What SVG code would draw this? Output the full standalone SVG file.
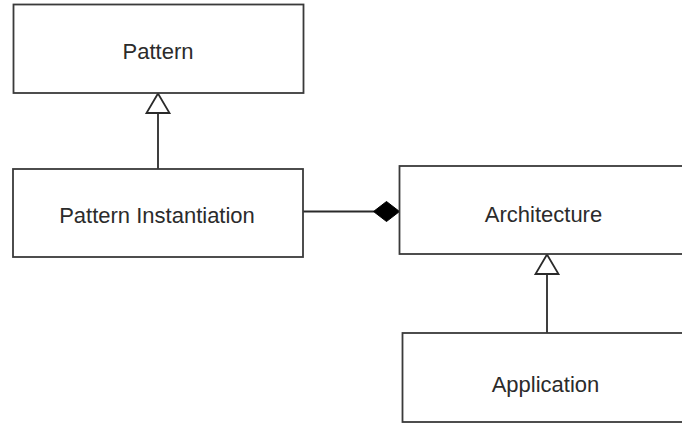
<svg xmlns="http://www.w3.org/2000/svg" width="682" height="424" viewBox="0 0 682 424">
  <style>
    .box { fill: #ffffff; stroke: #3a3a3a; stroke-width: 1.8; }
    .edge { fill: none; stroke: #2a2a2a; stroke-width: 1.8; }
    .hollow { fill: #ffffff; stroke: #2a2a2a; stroke-width: 1.8; stroke-linejoin: miter; }
    .solid { fill: #000000; stroke: #000000; stroke-width: 1; }
    .label { font-family: "Liberation Sans", Arial, sans-serif; font-size: 22px; fill: #2b2b2b; text-anchor: middle; }
  </style>
  <rect width="682" height="424" fill="#ffffff"/>

  <g id="connectors">
    <!-- Pattern Instantiation generalizes Pattern -->
    <line class="edge" x1="158" y1="169" x2="158" y2="113"/>
    <polygon class="hollow" points="158,93.5 146.5,113 169.5,113"/>
    <!-- Application generalizes Architecture -->
    <line class="edge" x1="547" y1="333" x2="547" y2="274"/>
    <polygon class="hollow" points="547,254.5 535.5,274 558.5,274"/>
    <!-- Architecture is composed of Pattern Instantiation -->
    <line class="edge" x1="303" y1="211.5" x2="374" y2="211.5"/>
    <polygon class="solid" points="373.5,211.5 386.5,201.5 399.5,211.5 386.5,221.5"/>
  </g>

  <g id="pattern">
    <rect class="box" x="13.5" y="4.5" width="290" height="88.5"/>
    <text class="label" x="158" y="59">Pattern</text>
  </g>

  <g id="pattern-instantiation">
    <rect class="box" x="13" y="169" width="290" height="88"/>
    <text class="label" x="157" y="223">Pattern Instantiation</text>
  </g>

  <g id="architecture">
    <rect class="box" x="399.5" y="166" width="290" height="88"/>
    <text class="label" x="543.5" y="221.5">Architecture</text>
  </g>

  <g id="application">
    <rect class="box" x="402.5" y="333" width="290" height="89"/>
    <text class="label" x="545.5" y="391.5">Application</text>
  </g>
</svg>
